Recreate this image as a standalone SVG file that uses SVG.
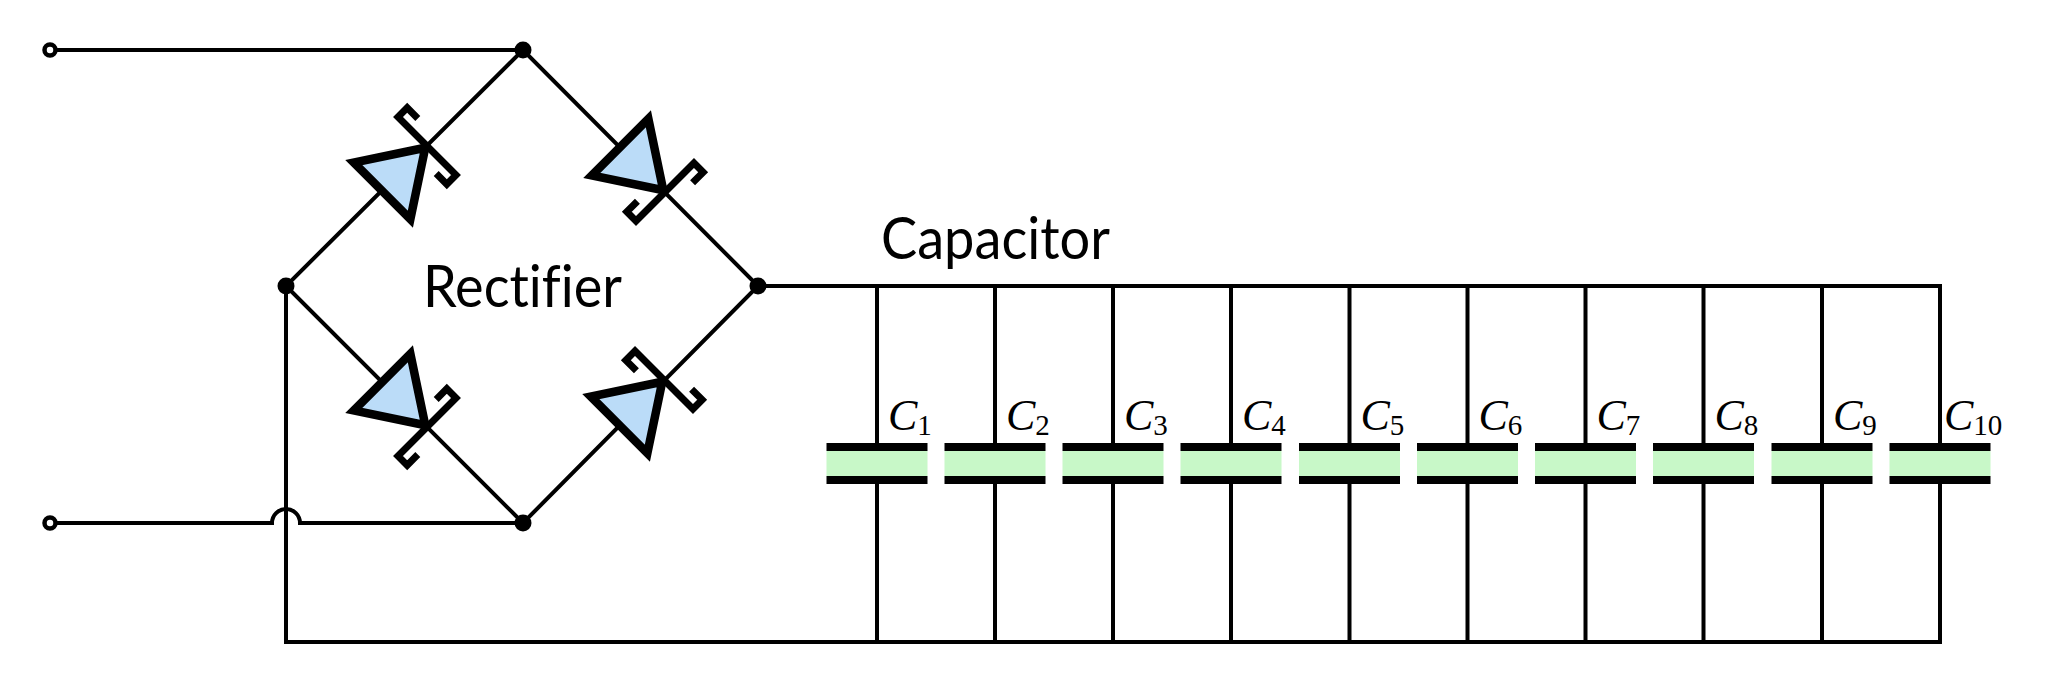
<svg xmlns="http://www.w3.org/2000/svg" xmlns:xlink="http://www.w3.org/1999/xlink" width="2063" height="684" viewBox="0 0 2063 684">
<style>
.w{fill:none;stroke:#000;stroke-width:4}
.tri{fill:#bbdcf8;stroke:#000;stroke-width:8.500;stroke-miterlimit:10}
.bar{fill:none;stroke:#000;stroke-width:7;stroke-linecap:butt;stroke-miterlimit:10}
.dot{fill:#000}
.term{fill:#fff;stroke:#000;stroke-width:4.500}
.lab{font-family:"Lato","Open Sans",sans-serif;font-weight:400;font-size:58px;fill:#000;font-variant-ligatures:none}
.c{font-family:"Liberation Serif",serif;font-style:italic;font-size:44px;fill:#000}
.s{font-family:"Liberation Serif",serif;font-style:normal;font-size:29px}
.pl{fill:#000}
.gr{fill:#c8f8c8}
</style>
<defs>
<g id="dA"><path class="tri" d="M-2.500 0L-63.500 -40L-63.500 40Z"/><path class="bar" d="M13 -26V-41H0V41H-13V26"/></g>
<g id="dB"><path class="tri" d="M-2.500 0L-63.500 -40L-63.500 40Z"/><path class="bar" d="M-13 -26V-41H0V41H13V26"/></g>
<g id="cap"><rect class="gr" x="-50.500" y="451" width="101" height="25"/><rect class="pl" x="-50.500" y="443" width="101" height="8"/><rect class="pl" x="-50.500" y="476" width="101" height="8"/></g>
</defs>
<g id="connectors">
<path class="w" d="M50 50H523L758 286L523 523H300A14 14 0 0 0 272 523H50"/>
<path class="w" d="M523 50L286 286L523 523"/>
<path class="w" d="M758 286H1940V642H286V286"/>
<path class="w" d="M877 286V642M995 286V642M1113 286V642M1231 286V642M1349.500 286V642M1467.500 286V642M1585.500 286V642M1703.500 286V642M1822 286V642"/>
</g>
<g id="terminal-a"><circle class="term" cx="50" cy="50" r="5.500"/></g>
<g id="terminal-b"><circle class="term" cx="50" cy="523" r="5.500"/></g>
<g id="node-top"><circle class="dot" cx="523" cy="50" r="8.500"/></g>
<g id="node-left"><circle class="dot" cx="286" cy="286" r="8.500"/></g>
<g id="node-right"><circle class="dot" cx="758" cy="286" r="8.500"/></g>
<g id="node-bottom"><circle class="dot" cx="523" cy="523" r="8.500"/></g>
<g id="diode-1"><use xlink:href="#dA" href="#dA" transform="translate(427 146) rotate(-45)"/></g>
<g id="diode-2"><use xlink:href="#dA" href="#dA" transform="translate(665 192) rotate(45)"/></g>
<g id="diode-3"><use xlink:href="#dB" href="#dB" transform="translate(427 427) rotate(45)"/></g>
<g id="diode-4"><use xlink:href="#dB" href="#dB" transform="translate(664 380) rotate(-45)"/></g>
<g id="label-rectifier"><text class="lab" x="423" y="307" textLength="199" lengthAdjust="spacingAndGlyphs">Rectifier</text></g>
<g id="label-capacitor"><text class="lab" x="881" y="259" textLength="229" lengthAdjust="spacingAndGlyphs">Capacitor</text></g>
<g id="C1"><use href="#cap" x="877"/><text class="c" x="888" y="430">C<tspan class="s" dy="5">1</tspan></text></g>
<g id="C2"><use href="#cap" x="995"/><text class="c" x="1006" y="430">C<tspan class="s" dy="5">2</tspan></text></g>
<g id="C3"><use href="#cap" x="1113"/><text class="c" x="1124" y="430">C<tspan class="s" dy="5">3</tspan></text></g>
<g id="C4"><use href="#cap" x="1231"/><text class="c" x="1242" y="430">C<tspan class="s" dy="5">4</tspan></text></g>
<g id="C5"><use href="#cap" x="1349.500"/><text class="c" x="1360.500" y="430">C<tspan class="s" dy="5">5</tspan></text></g>
<g id="C6"><use href="#cap" x="1467.500"/><text class="c" x="1478.500" y="430">C<tspan class="s" dy="5">6</tspan></text></g>
<g id="C7"><use href="#cap" x="1585.500"/><text class="c" x="1596.500" y="430">C<tspan class="s" dy="5">7</tspan></text></g>
<g id="C8"><use href="#cap" x="1703.500"/><text class="c" x="1714.500" y="430">C<tspan class="s" dy="5">8</tspan></text></g>
<g id="C9"><use href="#cap" x="1822"/><text class="c" x="1833" y="430">C<tspan class="s" dy="5">9</tspan></text></g>
<g id="C10"><use href="#cap" x="1940"/><text class="c" x="1944" y="430">C<tspan class="s" dy="5">10</tspan></text></g>
</svg>
